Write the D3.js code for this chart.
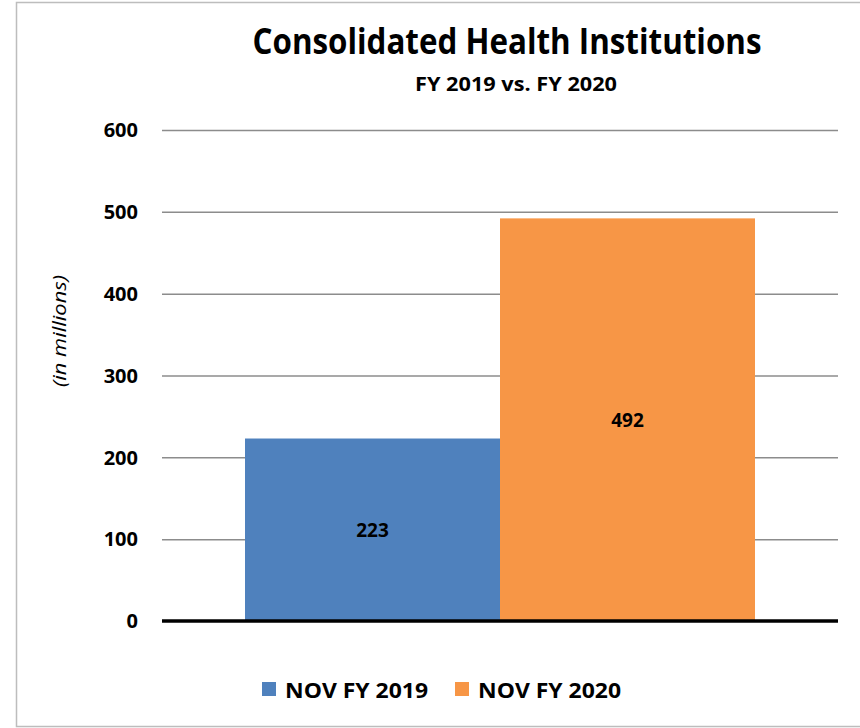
<!DOCTYPE html>
<html>
<head>
<meta charset="utf-8">
<script src="https://cdn.jsdelivr.net/npm/d3@7"></script>
<style>
  html, body { margin: 0; padding: 0; background: #fff; }
  svg { display: block; font-family: "Open Sans", "Liberation Sans", sans-serif; }
</style>
</head>
<body>
<svg id="chart" width="860" height="728"></svg>
<script>
'use strict';

// Datos del gráfico
var categorias = ['NOV'];
var series = ['NOV FY 2019', 'NOV FY 2020'];
var valores = [223, 492];
var colores = ['#4F81BD', '#F79646'];
var ticksY = [0, 100, 200, 300, 400, 500, 600];

(function() {
  var svg = d3.select('#chart');

  // Marco del gráfico
  svg.append('rect')
    .attr('x', 16.5).attr('y', 2.5)
    .attr('width', 860).attr('height', 724)
    .attr('fill', 'none').attr('stroke', '#bdbdbd').attr('stroke-width', 1.5);

  var margen = { izq: 162, der: 838, arr: 130, aba: 621 };

  var y = d3.scaleLinear().domain([0, 600]).range([margen.aba, margen.arr]);
  // ancho de barra 255 por serie, hueco repartido a los lados
  var x0 = d3.scaleBand().domain(categorias).range([margen.izq + 83, margen.der - 83]);
  var x1 = d3.scaleBand().domain(series).range([0, x0.bandwidth()]);

  // Rejilla
  var ejeY = d3.axisLeft(y).tickValues(ticksY).tickSize(-(margen.der - margen.izq)).tickFormat('');
  var grid = svg.append('g').attr('transform', 'translate(' + margen.izq + ',0)').call(ejeY);
  grid.select('.domain').remove();
  grid.selectAll('.tick line').attr('stroke', '#8c8c8c').attr('stroke-width', 1.5)
    .filter(function(d) { return d === 0; }).remove();

  // Etiquetas del eje Y
  svg.append('g').selectAll('text').data(ticksY).enter().append('text')
    .attr('x', 138).attr('y', function(d) { return y(d); })
    .attr('dy', '0.36em')
    .attr('text-anchor', 'end')
    .attr('font-size', 20).attr('font-weight', 'bold').attr('fill', '#000')
    .text(function(d) { return d; });

  // Barras
  var grupo = svg.append('g').attr('transform', 'translate(' + x0('NOV') + ',0)');
  grupo.selectAll('rect').data(valores).enter().append('rect')
    .attr('x', function(d, i) { return x1(series[i]); })
    .attr('y', function(d) { return y(d); })
    .attr('width', x1.bandwidth())
    .attr('height', function(d) { return y(0) - y(d); })
    .attr('fill', function(d, i) { return colores[i]; });

  grupo.selectAll('text').data(valores).enter().append('text')
    .attr('x', function(d, i) { return x1(series[i]) + x1.bandwidth() / 2; })
    .attr('y', function(d) { return (y(d) + y(0)) / 2; })
    .attr('dy', '0.36em')
    .attr('text-anchor', 'middle')
    .attr('font-size', 19).attr('font-weight', 'bold').attr('fill', '#000')
    .text(function(d) { return d; });

  // Línea del cero
  svg.append('line')
    .attr('x1', margen.izq).attr('x2', margen.der)
    .attr('y1', y(0)).attr('y2', y(0))
    .attr('stroke', '#000').attr('stroke-width', 3.5);

  // Títulos
  svg.append('text')
    .attr('x', 507).attr('y', 54)
    .attr('text-anchor', 'middle')
    .attr('font-size', 35).attr('font-weight', 'bold')
    .attr('textLength', 509).attr('lengthAdjust', 'spacingAndGlyphs')
    .text('Consolidated Health Institutions');

  svg.append('text')
    .attr('x', 516).attr('y', 91)
    .attr('text-anchor', 'middle')
    .attr('font-size', 20).attr('font-weight', 'bold')
    .attr('textLength', 202).attr('lengthAdjust', 'spacingAndGlyphs')
    .text('FY 2019 vs. FY 2020');

  svg.append('text')
    .attr('transform', 'translate(66,331) rotate(-90)')
    .attr('text-anchor', 'middle')
    .attr('font-size', 19).attr('font-style', 'italic')
    .attr('textLength', 112).attr('lengthAdjust', 'spacingAndGlyphs')
    .text('(in millions)');

  // Leyenda
  var posLeyenda = [262, 455];
  var anchoTexto = [143, 143];
  var leyenda = svg.append('g').selectAll('g').data(series).enter().append('g')
    .attr('transform', function(d, i) { return 'translate(' + posLeyenda[i] + ',682)'; });
  leyenda.append('rect')
    .attr('width', 14).attr('height', 14)
    .attr('fill', function(d, i) { return colores[i]; });
  leyenda.append('text')
    .attr('x', 23).attr('y', 15.5)
    .attr('font-size', 22).attr('font-weight', 'bold')
    .attr('textLength', function(d, i) { return anchoTexto[i]; })
    .attr('lengthAdjust', 'spacingAndGlyphs')
    .text(function(d) { return d; });
})();
</script>
</body>
</html>
